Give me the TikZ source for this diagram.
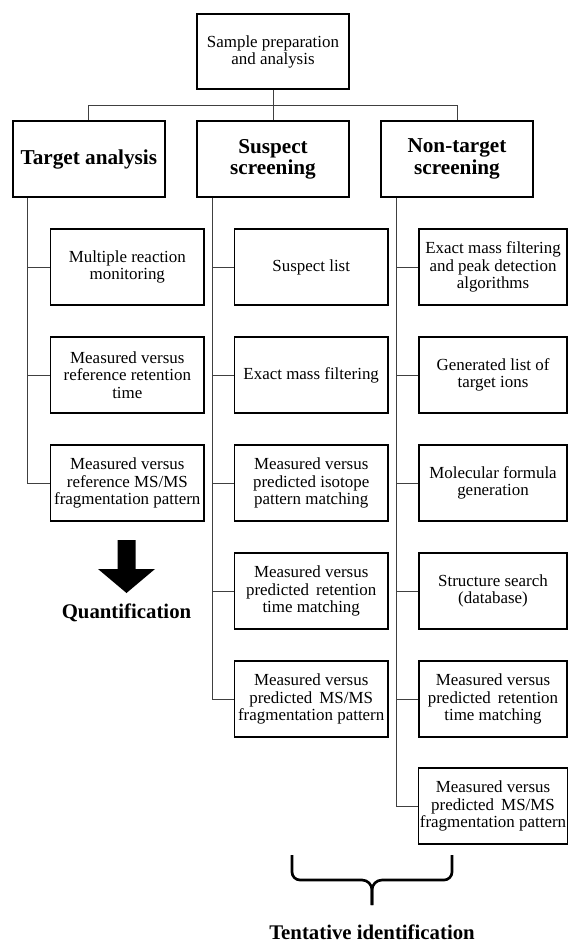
\documentclass[tikz,border=0pt]{standalone}
\usepackage{fontspec}
\setmainfont{Liberation Serif}
\begin{document}
\begin{tikzpicture}[x=0.75pt,y=-0.75pt,
  box/.style={draw=black,line width=1.2pt,rectangle,align=center,inner sep=1pt},
  topbox/.style={box,minimum width=114pt,minimum height=56.5pt,font=\fontsize{12.7}{12.7}\selectfont},
  headbox/.style={box,minimum width=114pt,minimum height=57pt,font=\fontsize{15.9}{16}\selectfont\bfseries},
  kid/.style={box,minimum width=115pt,minimum height=57pt,font=\fontsize{12.7}{13}\selectfont},
  kidr/.style={box,minimum width=111pt,minimum height=57pt,font=\fontsize{12.7}{13}\selectfont},
  conn/.style={draw=black!75,line width=0.7pt},
  bigtext/.style={font=\fontsize{15.6}{16}\selectfont\bfseries,inner sep=0pt}]
\useasboundingbox (0,0) rectangle (568,944);

\node[topbox] (top) at (273,51.5) {Sample preparation\\and analysis};
\node[headbox] (ta) at (88.8,159) {Target analysis};
\node[headbox] (ss) at (273,159) {Suspect\\screening};
\node[headbox] (nt) at (457,159) {Non-target\\screening};

% column 1
\node[kid] (a1) at (127.3,267) {Multiple reaction\\monitoring};
\node[kid] (a2) at (127.3,375) {Measured versus\\reference retention\\time};
\node[kid] (a3) at (127.3,483) {Measured versus\\reference MS/MS\\fragmentation pattern};

% column 2
\node[kid] (b1) at (311.2,267) {Suspect list};
\node[kid] (b2) at (311.2,375) {Exact mass filtering};
\node[kid] (b3) at (311.2,483) {Measured versus\\predicted isotope\\pattern matching};
\node[kid] (b4) at (311.2,591) {Measured versus\\predicted\, retention\\time matching};
\node[kid] (b5) at (311.2,699) {Measured versus\\predicted\, MS/MS\\fragmentation pattern};

% column 3
\node[kidr] (c1) at (493,267) {Exact mass filtering\\and peak detection\\algorithms};
\node[kidr] (c2) at (493,375) {Generated list of\\target ions};
\node[kidr] (c3) at (493,483) {Molecular formula\\generation};
\node[kidr] (c4) at (493,591) {Structure search\\(database)};
\node[kidr] (c5) at (493,699) {Measured versus\\predicted\, retention\\time matching};
\node[kidr] (c6) at (493,806) {Measured versus\\predicted\, MS/MS\\fragmentation pattern};

% top connectors
\draw[conn] (top.south) -- (ss.north);
\draw[conn] (ta.north) -- ++(0,-15) -| (nt.north);

% spines
\coordinate (sa) at ([xshift=11.8pt]ta.south west);
\coordinate (sb) at ([xshift=12.4pt]ss.south west);
\coordinate (sc) at ([xshift=12pt]nt.south west);
\draw[conn] (sa) |- (a3.west);
\draw[conn] (a1.west) -- (a1.west -| sa);
\draw[conn] (a2.west) -- (a2.west -| sa);
\draw[conn] (sb) |- (b5.west);
\foreach \n in {b1,b2,b3,b4} \draw[conn] (\n.west) -- (\n.west -| sb);
\draw[conn] (sc) |- (c6.west);
\foreach \n in {c1,c2,c3,c4,c5} \draw[conn] (\n.west) -- (\n.west -| sc);

% quantification arrow
\fill[black] (117.5,540) -- (135.5,540) -- (135.5,569) -- (155,569) -- (126.5,593)
  -- (98,569) -- (117.5,569) -- cycle;
\node[bigtext] (quant) at (126.5,613) {Quantification};

% brace
\coordinate (bl) at (292,855);
\coordinate (br) at (452,855);
\coordinate (bt) at (372,905);
\draw[line width=2pt,line join=round]
  (bl) -- (292,872) to[out=-90,in=180] (300,880) -- (362,880)
  to[out=0,in=90] (372,890) -- (bt);
\draw[line width=2pt,line join=round]
  (br) -- (452,872) to[out=-90,in=0] (444,880) -- (382,880)
  to[out=180,in=90] (372,890) -- (bt);
\node[bigtext,anchor=base] (tent) at (372,939) {Tentative identification};
\end{tikzpicture}
\end{document}
